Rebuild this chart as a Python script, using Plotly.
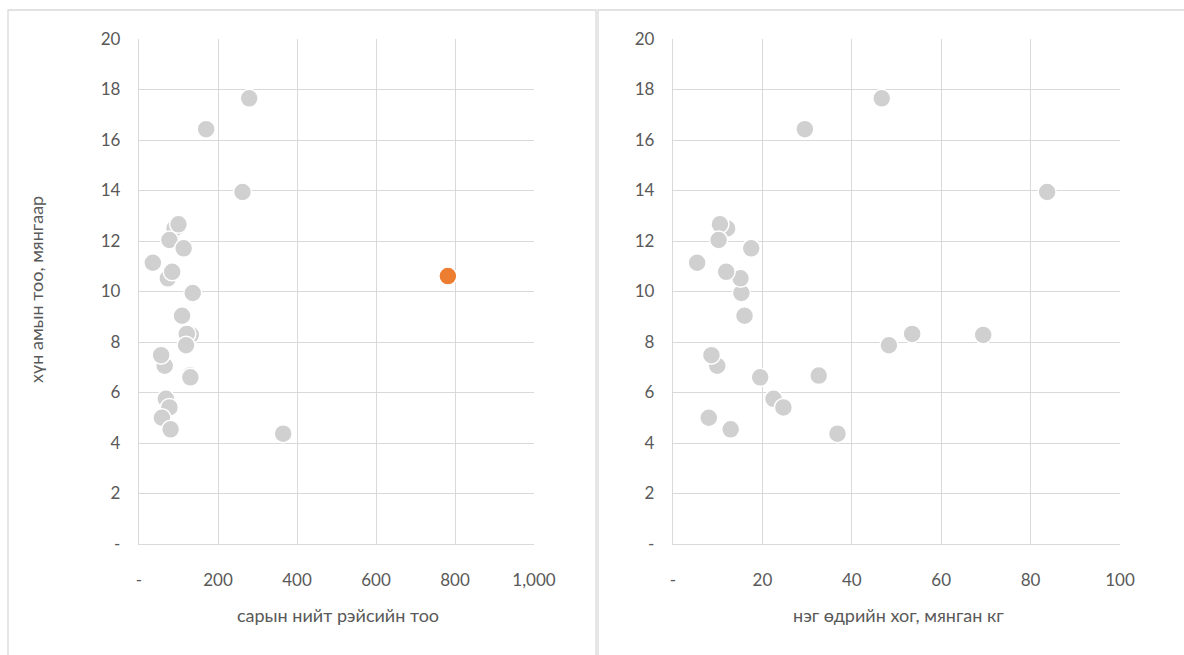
import plotly.graph_objects as go

# data (listed in drawing order: later points sit on top)
population = [17.65, 16.43, 13.94, 12.50, 12.66, 12.04, 11.71, 11.14, 9.94, 10.52,
              10.78, 9.04, 8.28, 8.32, 7.87, 7.06, 7.48, 6.67, 6.60, 5.75, 5.41, 5.00, 4.54, 4.37]
flights = [279, 170, 262, 90, 100, 77, 113, 35, 136, 73,
           84, 109, 131, 121, 119, 65, 56, 129, 130, 68, 77, 58, 80, 365]
waste = [46.7, 29.5, 83.7, 12.1, 10.5, 10.2, 17.5, 5.4, 15.3, 15.1,
         11.9, 16.0, 69.4, 53.5, 48.3, 9.9, 8.6, 32.6, 19.5, 22.5, 24.7, 8.0, 12.9, 36.8]
highlight_flights = [782]
highlight_population = [10.61]

x1_ticks = [0, 200, 400, 600, 800, 1000]
x1_text = ["-", "200", "400", "600", "800", "1,000"]
x2_ticks = [0, 20, 40, 60, 80, 100]
x2_text = ["-", "20", "40", "60", "80", "100"]
y_ticks = [0, 2, 4, 6, 8, 10, 12, 14, 16, 18, 20]
y_text = ["-", "2", "4", "6", "8", "10", "12", "14", "16", "18", "20"]

GRAY = "#D0D0D0"
ORANGE = "#ED7D31"
GRID = "#D9D9D9"
TXT = "#595959"
FONT = "Lato, Open Sans, sans-serif"
W, H = 1184, 655

mk = dict(size=18, color=GRAY, line=dict(color="white", width=1.5))
fig = go.Figure()
fig.add_trace(go.Scatter(x=flights, y=population, mode="markers", marker=mk,
                         xaxis="x", yaxis="y", showlegend=False))
fig.add_trace(go.Scatter(x=highlight_flights, y=highlight_population, mode="markers",
                         marker=dict(size=18, color=ORANGE, line=dict(color="white", width=1.5)),
                         xaxis="x", yaxis="y", showlegend=False))
fig.add_trace(go.Scatter(x=waste, y=population, mode="markers", marker=mk,
                         xaxis="x2", yaxis="y2", showlegend=False))

def px_x(p):
    return p / W

def px_y(p):
    return 1 - p / H

ydom = [px_y(544), px_y(39)]
common_axis = dict(showgrid=True, gridcolor=GRID, gridwidth=1.3, zeroline=False,
                   showline=True, linecolor=GRID, linewidth=1.3, ticks="",
                   automargin=False,
                   tickfont=dict(family=FONT, size=17, color=TXT), mirror=False)

fig.update_layout(
    width=W, height=H, margin=dict(l=0, r=0, t=0, b=0, pad=0), autosize=False,
    paper_bgcolor="white", plot_bgcolor="white",
    xaxis=dict(domain=[px_x(139), px_x(534)], range=[0, 1000], tickvals=x1_ticks,
               ticktext=x1_text, anchor="y", ticklabelstandoff=20, **common_axis),
    yaxis=dict(domain=ydom, range=[0, 20], tickvals=y_ticks, ticktext=y_text,
               anchor="x", ticklabelstandoff=14, **common_axis),
    xaxis2=dict(domain=[px_x(673), px_x(1120)], range=[0, 100], tickvals=x2_ticks,
                ticktext=x2_text, anchor="y2", ticklabelstandoff=20, **common_axis),
    yaxis2=dict(domain=ydom, range=[0, 20], tickvals=y_ticks, ticktext=y_text,
                anchor="x2", ticklabelstandoff=14, **common_axis),
    shapes=[
        dict(type="rect", xref="paper", yref="paper", x0=px_x(8), x1=px_x(596),
             y0=-0.05, y1=px_y(10), line=dict(color=GRID, width=1.3)),
        dict(type="rect", xref="paper", yref="paper", x0=px_x(598), x1=1.05,
             y0=-0.05, y1=px_y(10), line=dict(color=GRID, width=1.3)),
    ],
    annotations=[
        dict(text="хүн амын тоо, мянгаар", xref="paper", yref="paper",
             x=px_x(36), y=px_y(290), textangle=-90, showarrow=False,
             font=dict(family=FONT, size=18, color=TXT), xanchor="center", yanchor="middle"),
        dict(text="сарын нийт рэйсийн тоо", xref="paper", yref="paper",
             x=px_x(338), y=px_y(615), showarrow=False,
             font=dict(family=FONT, size=18, color=TXT), xanchor="center", yanchor="middle"),
        dict(text="нэг өдрийн хог, мянган кг", xref="paper", yref="paper",
             x=px_x(898), y=px_y(615), showarrow=False,
             font=dict(family=FONT, size=18, color=TXT), xanchor="center", yanchor="middle"),
    ],
)

fig.write_html("out.html", post_script="document.body.style.margin='0';",
               config={"displayModeBar": False})
